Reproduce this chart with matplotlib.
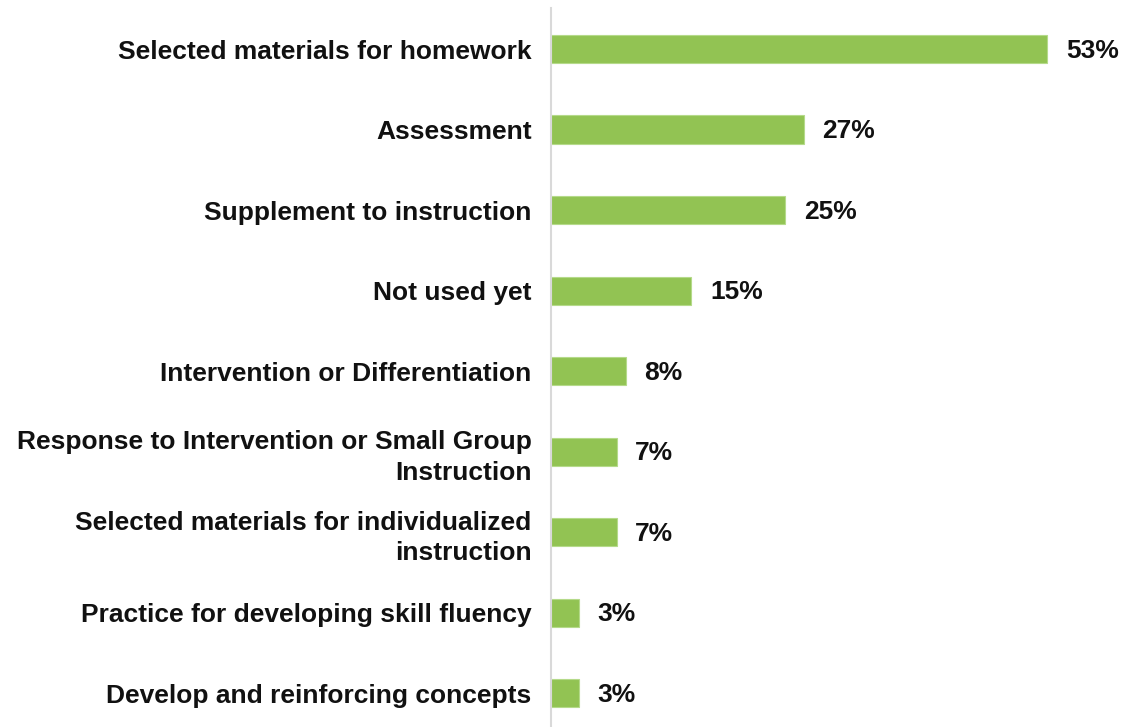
import matplotlib.pyplot as plt

plt.rcParams['font.family'] = ['Liberation Sans', 'DejaVu Sans']

# Chart data
categories = [
    'Selected materials for homework',
    'Assessment',
    'Supplement to instruction',
    'Not used yet',
    'Intervention or Differentiation',
    'Response to Intervention or Small Group\nInstruction',
    'Selected materials for individualized\ninstruction',
    'Practice for developing skill fluency',
    'Develop and reinforcing concepts',
]
values = [53, 27, 25, 15, 8, 7, 7, 3, 3]
value_labels = ['53%', '27%', '25%', '15%', '8%', '7%', '7%', '3%', '3%']

fig = plt.figure(figsize=(11.22, 7.27), dpi=100)
ax = fig.add_axes([551 / 1122, 0, 1 - 551 / 1122, 1 - 8 / 727])

y = list(range(len(categories)))
ax.barh(y, values, height=0.35, color='#92C353', edgecolor='#B5DA8A', linewidth=0.8)

for yi, v, lab in zip(y, values, value_labels):
    ax.text(v + 2.0, yi + 0.02, lab, va='center', ha='left', fontsize=19, fontweight='bold', color='#111111')

ax.set_xlim(0, 61)
ax.set_ylim(8.42, -0.51)
ax.set_yticks(y)
ax.set_yticklabels(categories, fontsize=19, fontweight='bold', color='#111111', linespacing=1.35)
ax.tick_params(axis='y', length=0, pad=14)
ax.set_xticks([])

for side in ['top', 'right', 'bottom']:
    ax.spines[side].set_visible(False)
ax.spines['left'].set_color('#d9d9d9')
ax.spines['left'].set_linewidth(1.5)

fig.savefig('out.png', dpi=100)
